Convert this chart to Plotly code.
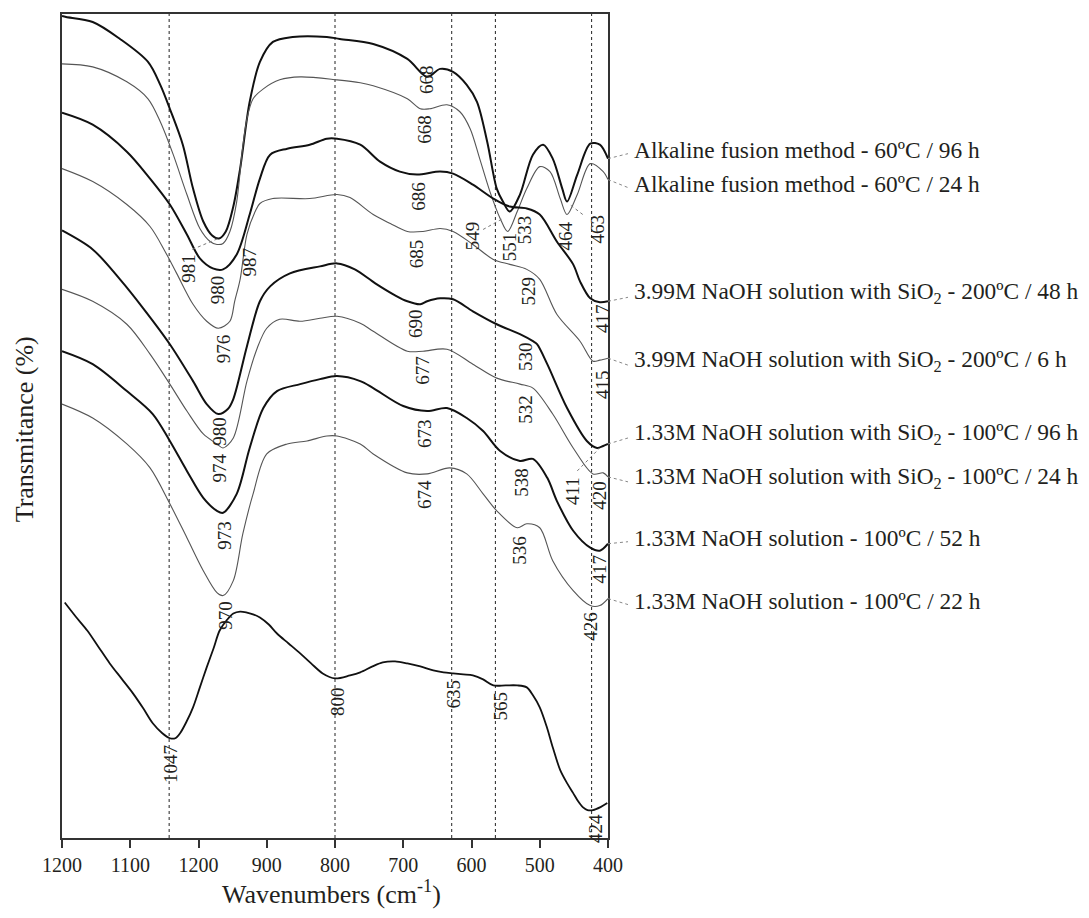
import plotly.graph_objects as go

# ---------------- data (arbitrary transmittance units) -------------
tick_vals = [1200, 1100, 1000, 900, 800, 700, 600, 500, 400]
tick_text = ["1200", "1100", "1200", "900", "800", "700", "600", "500", "400"]

names = [
    "Alkaline fusion method - 60ºC / 96 h",
    "Alkaline fusion method - 60ºC / 24 h",
    "3.99M NaOH solution with SiO<sub>2</sub> - 200ºC / 48 h",
    "3.99M NaOH solution with SiO<sub>2</sub> - 200ºC / 6 h",
    "1.33M NaOH solution with SiO<sub>2</sub> - 100ºC / 96 h",
    "1.33M NaOH solution with SiO<sub>2</sub> - 100ºC / 24 h",
    "1.33M NaOH solution - 100ºC / 52 h",
    "1.33M NaOH solution - 100ºC / 22 h",
]
# label vertical positions (same units as the curves) for the right-hand captions
name_y = [690, 656, 546, 478, 405, 361, 301, 238]

wn_1 = [1200, 1194, 1155, 1115, 1074, 1056, 1042, 1023, 1008, 993, 980, 970, 960, 949, 939, 925, 910, 891,
        862, 812, 793, 744, 694, 665, 646, 627, 607, 592, 577, 563, 554, 544, 529, 510, 495, 481, 467, 460,
        445, 426, 412, 400]
t_1 = [824, 823, 818, 801, 778, 755, 731, 695, 651, 618, 604, 601, 608, 633, 671, 738, 778, 798,
       803, 803, 801, 796, 781, 763, 771, 768, 755, 738, 698, 651, 638, 628, 645, 685, 695, 681, 651, 638,
       665, 696, 695, 681]

wn_2 = [1200, 1155, 1105, 1074, 1056, 1037, 1017, 998, 983, 973, 964, 954, 944, 936, 929, 920, 905, 881,
        851, 797, 763, 744, 694, 675, 661, 636, 617, 602, 588, 573, 558, 547, 533, 519, 500, 485, 470, 460,
        445, 426, 407, 400]
t_2 = [776, 773, 758, 741, 718, 685, 645, 611, 598, 595, 596, 608, 638, 688, 721, 741, 751, 760,
       763, 760, 757, 754, 741, 731, 731, 735, 728, 711, 681, 648, 621, 608, 628, 651, 673, 668, 641, 625,
       645, 676, 668, 660]

wn_3 = [1200, 1155, 1105, 1071, 1042, 1017, 998, 979, 964, 944, 925, 910, 895, 870, 837, 812, 797, 763,
        734, 705, 680, 646, 627, 598, 568, 544, 519, 500, 475, 451, 441, 426, 412, 400]
t_3 = [727, 715, 688, 661, 635, 605, 581, 571, 570, 585, 625, 661, 685, 691, 695, 701, 701, 695,
       678, 668, 665, 668, 666, 655, 641, 633, 631, 625, 598, 575, 558, 541, 537, 538]

wn_4 = [1200, 1155, 1105, 1071, 1049, 1032, 1008, 988, 971, 954, 947, 939, 929, 917, 910, 891, 837, 797,
        778, 744, 719, 694, 671, 646, 627, 598, 568, 544, 519, 500, 475, 441, 422, 412, 400]
t_4 = [671, 658, 635, 613, 588, 566, 535, 518, 511, 518, 538, 560, 605, 628, 636, 641, 641, 645,
       642, 625, 616, 608, 608, 611, 608, 595, 580, 575, 570, 560, 525, 498, 478, 479, 481]

wn_5 = [1200, 1155, 1115, 1081, 1042, 1008, 988, 971, 957, 949, 929, 910, 895, 866, 822, 797, 771, 741,
        712, 694, 675, 665, 646, 627, 598, 563, 529, 510, 504, 489, 460, 431, 416, 407, 400]
t_5 = [609, 590, 560, 531, 495, 458, 435, 425, 430, 440, 493, 538, 553, 566, 573, 576, 570, 556,
       544, 538, 535, 538, 541, 540, 528, 515, 505, 498, 495, 475, 431, 398, 391, 393, 395]

wn_6 = [1200, 1155, 1105, 1071, 1042, 1017, 993, 973, 964, 949, 929, 914, 900, 881, 851, 822, 797, 763,
        744, 694, 671, 636, 598, 563, 529, 510, 481, 451, 422, 407, 400]
t_6 = [550, 538, 515, 485, 455, 428, 405, 395, 391, 401, 458, 491, 511, 520, 518, 521, 523, 516,
       508, 488, 488, 490, 475, 461, 455, 451, 425, 391, 365, 366, 362]

wn_7 = [1200, 1155, 1105, 1067, 1042, 1017, 993, 973, 964, 944, 925, 905, 885, 851, 822, 797, 763, 744,
        700, 665, 636, 607, 583, 558, 529, 510, 489, 475, 451, 426, 412, 400]
t_7 = [488, 475, 448, 425, 398, 368, 341, 328, 326, 345, 391, 431, 448, 455, 460, 463, 458, 451,
       433, 428, 431, 421, 408, 388, 378, 380, 361, 338, 308, 291, 288, 295]

wn_8 = [1200, 1155, 1105, 1071, 1042, 1017, 993, 973, 964, 949, 935, 920, 900, 870, 841, 812, 797, 763,
        744, 694, 665, 632, 607, 583, 563, 533, 519, 500, 481, 451, 426, 412, 400]
t_8 = [435, 421, 395, 371, 335, 301, 268, 246, 243, 258, 305, 345, 385, 395, 398, 403, 403, 395,
       385, 366, 365, 371, 365, 345, 328, 311, 315, 311, 278, 248, 233, 233, 240]

wn_9 = [1196, 1180, 1163, 1147, 1130, 1113, 1096, 1081, 1067, 1053, 1042, 1034, 1027, 1018, 1008, 998,
        988, 978, 969, 959, 949, 939, 929, 919, 910, 897, 885, 868, 851, 835, 818, 800, 778, 763, 745,
        730, 712, 694, 675, 656, 641, 627, 612, 598, 583, 568, 550, 533, 519, 510, 500, 490, 481, 470,
        460, 451, 444, 437, 430, 422, 411, 401]
t_9 = [236, 222, 208, 192, 175, 160, 145, 130, 115, 105, 100, 100, 105, 116, 131, 151,
       171, 190, 208, 218, 225, 227, 226, 224, 221, 214, 205, 195, 185, 175, 165, 160, 163, 166, 172,
       176, 177, 175, 172, 168, 166, 165, 164, 163, 159, 153, 153, 153, 151, 143, 131, 112, 91, 68,
       55, 45, 37, 31, 28, 28, 31, 35]

# vertical reference lines (positions as drawn)
ref_lines = [1043, 800, 629, 565, 424]

# peak labels: text, wavenumber, level
peak_text = ["981", "980", "987", "976", "980", "974", "973", "970",
             "1047", "800", "635", "565", "424",
             "668", "668", "686", "685", "549", "551", "533", "464", "463",
             "529", "417", "690", "677", "530", "532", "415",
             "673", "674", "538", "536", "411", "420", "417", "426"]
peak_wn = [1015, 973, 926, 964, 969, 969, 961, 961,
           1042, 796, 627, 558, 419,
           665, 668, 678, 680, 598, 544, 522, 463, 416,
           517, 409, 683, 673, 522, 522, 409,
           668, 668, 526, 529, 451, 412, 412, 426]
peak_t = [571, 550, 577, 490, 408, 371, 303, 223,
          74, 137, 144, 132, 9,
          760, 710, 643, 586, 604, 593, 610, 603, 610,
          548, 521, 516, 469, 483, 430, 455,
          405, 344, 356, 289, 348, 344, 270, 212]

# short dotted leaders from some peak labels to their curve: (wn0, t0, wn1, t1)
leader_wn0 = [1009, 583, 437, 445]
leader_t0 = [590, 610, 625, 368]
leader_wn1 = [971, 554, 456, 412]
leader_t1 = [601, 621, 635, 391]

# ---------------- figure -------------------------------------------------------------------------
curves_wn = [wn_1, wn_2, wn_3, wn_4, wn_5, wn_6, wn_7, wn_8, wn_9]
curves_t = [t_1, t_2, t_3, t_4, t_5, t_6, t_7, t_8, t_9]
thick = [True, False, True, False, True, False, True, False, True]

Y_MAX = 826
FONT = "Liberation Serif, Times New Roman, serif"
TXT = "#231f20"

fig = go.Figure()
for i, (xw, yt) in enumerate(zip(curves_wn, curves_t)):
    if thick[i]:
        line = dict(color="#111111", width=2.0 if i < 8 else 1.8, shape="spline", smoothing=0.9)
    else:
        line = dict(color="#555555", width=1.1, shape="spline", smoothing=0.9)
    fig.add_trace(go.Scatter(x=xw, y=yt, mode="lines", line=line, hoverinfo="skip",
                             name=names[i] if i < 8 else "starting material"))

shapes = []
for xv in ref_lines:
    shapes.append(dict(type="line", xref="x", yref="paper", x0=xv, x1=xv, y0=0, y1=1,
                       line=dict(color="#222222", width=1, dash="dot"), layer="below"))
for a, b, c, d in zip(leader_wn0, leader_t0, leader_wn1, leader_t1):
    shapes.append(dict(type="line", xref="x", yref="y", x0=a, y0=b, x1=c, y1=d,
                       line=dict(color="#777777", width=1, dash="dot")))

x_leader_end = (628 - 62) / 546.0
x_name = (632 - 62) / 546.0
annotations = []
for i in range(8):
    y_end = curves_t[i][-1] / Y_MAX
    y_lab = name_y[i] / Y_MAX
    shapes.append(dict(type="line", xref="paper", yref="paper", x0=1.0, y0=y_end,
                       x1=x_leader_end, y1=y_lab - 4 / Y_MAX,
                       line=dict(color="#888888", width=1, dash="dot")))
    annotations.append(dict(xref="paper", yref="paper", x=x_name, y=y_lab, text=names[i],
                            showarrow=False, xanchor="left", yanchor="middle",
                            font=dict(family=FONT, size=23.4, color=TXT)))

for txt, xw, yt in zip(peak_text, peak_wn, peak_t):
    annotations.append(dict(xref="x", yref="y", x=xw, y=yt, text=txt, textangle=-90,
                            showarrow=False, xanchor="center", yanchor="middle",
                            font=dict(family=FONT, size=19, color=TXT)))

annotations.append(dict(xref="paper", yref="paper", x=(24 - 62) / 546.0, y=0.496,
                        text="Transmitance (%)", textangle=-90, showarrow=False,
                        xanchor="center", yanchor="middle",
                        font=dict(family=FONT, size=26, color=TXT)))
annotations.append(dict(xref="paper", yref="paper", x=0.4945, y=(838 - 893) / 826.0,
                        text="Wavenumbers (cm<sup>-1</sup>)", showarrow=False,
                        xanchor="center", yanchor="middle",
                        font=dict(family=FONT, size=26, color=TXT)))

fig.update_layout(
    width=1089, height=918,
    margin=dict(l=62, r=481, t=12, b=80),
    paper_bgcolor="white", plot_bgcolor="white",
    showlegend=False, hovermode=False,
    shapes=shapes, annotations=annotations,
    font=dict(family=FONT, color=TXT),
)
fig.update_xaxes(range=[1200, 400], tickmode="array", tickvals=tick_vals, ticktext=tick_text,
                 ticks="outside", ticklen=8, tickwidth=1.5, tickcolor="#333333",
                 showline=True, linecolor="#333333", linewidth=1.5, mirror=True,
                 showgrid=False, zeroline=False,
                 tickfont=dict(family=FONT, size=20, color=TXT))
fig.update_yaxes(range=[0, Y_MAX], showticklabels=False, ticks="",
                 showline=True, linecolor="#333333", linewidth=1.5, mirror=True,
                 showgrid=False, zeroline=False)

fig.write_html("out.html")
